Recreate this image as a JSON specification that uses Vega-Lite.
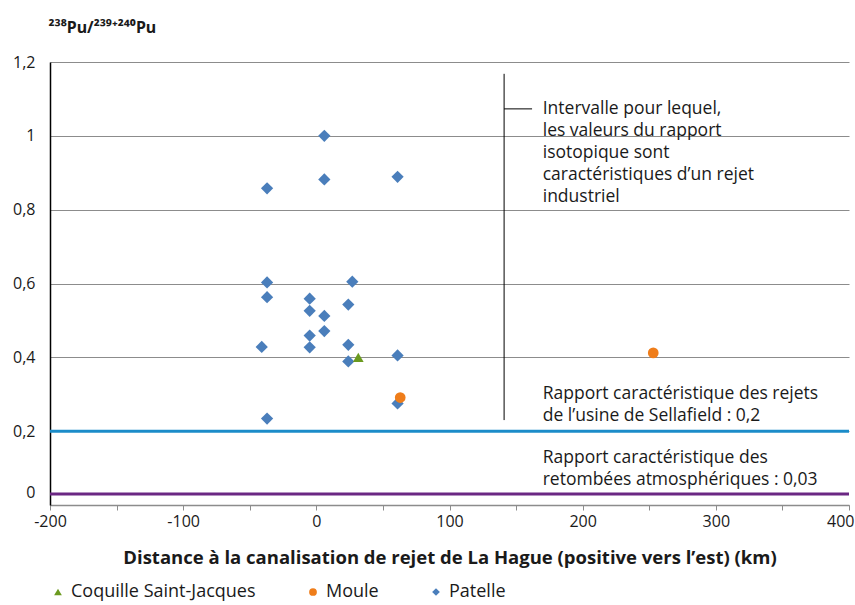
{
  "$schema": "https://vega.github.io/schema/vega-lite/v6.json",
  "autosize": "none",
  "padding": {"left": 50, "top": 62, "right": 6, "bottom": 100},
  "width": 799,
  "height": 443,
  "background": "white",
  "config": {
    "font": "Open Sans",
    "view": {"stroke": null},
    "text": {"font": "Open Sans"}
  },
  "datasets": {
    "points": [
      {"x": 6, "y": 1.0, "espece": "Patelle"},
      {"x": -37, "y": 0.858, "espece": "Patelle"},
      {"x": 6, "y": 0.882, "espece": "Patelle"},
      {"x": 61, "y": 0.889, "espece": "Patelle"},
      {"x": -37, "y": 0.603, "espece": "Patelle"},
      {"x": 27, "y": 0.605, "espece": "Patelle"},
      {"x": -37, "y": 0.563, "espece": "Patelle"},
      {"x": -5, "y": 0.559, "espece": "Patelle"},
      {"x": 24, "y": 0.543, "espece": "Patelle"},
      {"x": -5, "y": 0.526, "espece": "Patelle"},
      {"x": 6, "y": 0.512, "espece": "Patelle"},
      {"x": 6, "y": 0.471, "espece": "Patelle"},
      {"x": -5, "y": 0.459, "espece": "Patelle"},
      {"x": -41, "y": 0.428, "espece": "Patelle"},
      {"x": -5, "y": 0.427, "espece": "Patelle"},
      {"x": 24, "y": 0.434, "espece": "Patelle"},
      {"x": 24, "y": 0.389, "espece": "Patelle"},
      {"x": 61, "y": 0.405, "espece": "Patelle"},
      {"x": 61, "y": 0.275, "espece": "Patelle"},
      {"x": -37, "y": 0.234, "espece": "Patelle"},
      {"x": 31.5, "y": 0.4, "espece": "Coquille Saint-Jacques"},
      {"x": 63, "y": 0.291, "espece": "Moule"},
      {"x": 253, "y": 0.412, "espece": "Moule"}
    ]
  },
  "encoding": {
    "x": {
      "field": "x",
      "type": "quantitative",
      "scale": {"domain": [-200, 400], "nice": false, "zero": false},
      "axis": {
        "title": "Distance à la canalisation de rejet de La Hague (positive vers l’est) (km)",
        "titleFontSize": 18.5,
        "titleFontWeight": "bold",
        "titleColor": "#1a1a1a",
        "titlePadding": 19,
        "values": [-200, -150, -100, -50, 0, 50, 100, 150, 200, 250, 300, 350, 400],
        "labelExpr": "datum.value % 100 === 0 ? replace(format(datum.value, 'd'), '−', '-') : ''",
        "labelFontSize": 16,
        "labelColor": "#1a1a1a",
        "labelPadding": 3,
        "labelAlign": {"condition": {"test": "datum.value === 400", "value": "right"}, "value": "center"},
        "labelOffset": {"condition": {"test": "datum.value === 400", "value": 5}, "value": 0},
        "tickSize": 5,
        "tickColor": "#8c8c8c",
        "domainColor": "#8c8c8c",
        "domainWidth": 1.5,
        "grid": false,
        "labelFlush": false,
        "labelOverlap": false
      }
    },
    "y": {
      "field": "y",
      "type": "quantitative",
      "scale": {"domain": [0, 1.2], "nice": false, "zero": false},
      "axis": {
        "title": "²³⁸Pu/²³⁹⁺²⁴⁰Pu",
        "titleFont": "Noto Sans",
        "titleAngle": 0,
        "titleAlign": "left",
        "titleBaseline": "alphabetic",
        "titleX": -2,
        "titleY": -30,
        "titleFontSize": 16,
        "titleFontWeight": "bold",
        "titleColor": "#1a1a1a",
        "values": [0, 0.2, 0.4, 0.6, 0.8, 1, 1.2],
        "labelExpr": "replace(format(datum.value, '~g'), '.', ',')",
        "labelFontSize": 16,
        "labelColor": "#1a1a1a",
        "labelPadding": 15,
        "labelOffset": {"condition": {"test": "datum.value === 0", "value": -13}, "value": 0},
        "ticks": false,
        "domainColor": "#000000",
        "domainWidth": 1.5,
        "grid": true,
        "gridColor": "#8c8c8c",
        "gridWidth": 1,
        "labelFlush": false,
        "labelOverlap": false
      }
    }
  },
  "layer": [
    {
      "data": {"values": [{"x": -200, "x2": 400, "y": 0.2}]},
      "mark": {"type": "rule", "color": "#1b8cc9", "strokeWidth": 3},
      "encoding": {"x2": {"field": "x2"}}
    },
    {
      "data": {"values": [{"x": -200, "x2": 400, "y": 0.03}]},
      "mark": {"type": "rule", "color": "#6b2783", "strokeWidth": 3},
      "encoding": {"x2": {"field": "x2"}}
    },
    {
      "data": {"values": [{"x": 141, "y": 0.23, "y2": 1.168}]},
      "mark": {"type": "rule", "color": "#000000", "strokeWidth": 1},
      "encoding": {"y2": {"field": "y2"}}
    },
    {
      "data": {"values": [{"x": 141, "x2": 162, "y": 1.073}]},
      "mark": {"type": "rule", "color": "#000000", "strokeWidth": 1},
      "encoding": {"x2": {"field": "x2"}}
    },
    {
      "data": {"values": [
        {"x": 170, "y": 1.06, "label": "Intervalle pour lequel,\nles valeurs du rapport\nisotopique sont\ncaractéristiques d’un rejet\nindustriel"},
        {"x": 170, "y": 0.288, "label": "Rapport caractéristique des rejets\nde l’usine de Sellafield : 0,2"},
        {"x": 170, "y": 0.1126, "label": "Rapport caractéristique des\nretombées atmosphériques : 0,03"}
      ]},
      "mark": {"type": "text", "align": "left", "baseline": "alphabetic", "fontSize": 17.5, "lineHeight": 22, "lineBreak": "\n", "color": "#1a1a1a"},
      "encoding": {"text": {"field": "label"}}
    },
    {
      "data": {"name": "points"},
      "transform": [{"filter": "datum.espece === 'Patelle'"}],
      "mark": {"type": "point", "filled": true, "opacity": 1, "size": 150},
      "encoding": {
        "color": {"field": "espece", "type": "nominal",
          "scale": {"domain": ["Coquille Saint-Jacques", "Moule", "Patelle"], "range": ["#6b9a1f", "#ef7d1a", "#4a7ebb"]},
          "legend": {"orient": "none", "legendX": -1, "legendY": 521, "direction": "horizontal", "title": null, "symbolSize": 60, "labelFontSize": 18, "labelLimit": 0, "labelColor": "#1a1a1a", "columnPadding": 48, "padding": 0, "symbolStrokeWidth": 0}},
        "shape": {"field": "espece", "type": "nominal",
          "scale": {"domain": ["Coquille Saint-Jacques", "Moule", "Patelle"], "range": ["triangle-up", "circle", "diamond"]},
          "legend": {"orient": "none", "legendX": -1, "legendY": 521, "direction": "horizontal", "title": null, "symbolSize": 60, "labelFontSize": 18, "labelLimit": 0, "labelColor": "#1a1a1a", "columnPadding": 48, "padding": 0, "symbolStrokeWidth": 0}}
      }
    },
    {
      "data": {"name": "points"},
      "transform": [{"filter": "datum.espece !== 'Patelle'"}],
      "mark": {"type": "point", "filled": true, "opacity": 1, "size": 115},
      "encoding": {
        "color": {"field": "espece", "type": "nominal"},
        "shape": {"field": "espece", "type": "nominal"}
      }
    }
  ]
}
